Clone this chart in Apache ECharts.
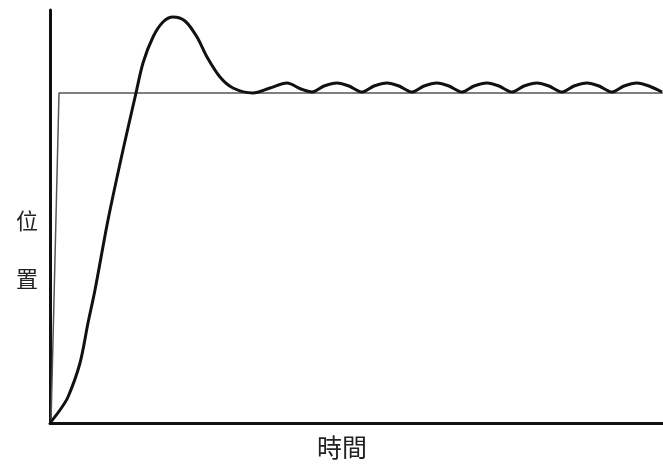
<!DOCTYPE html>
<html>
<head>
<meta charset="utf-8">
<script src="https://cdn.jsdelivr.net/npm/echarts@6/dist/echarts.min.js"></script>
<style>
html,body{margin:0;padding:0;background:#fff;}
#chart{width:663px;height:466px;}
</style>
</head>
<body>
<div id="chart"></div>
<script>
// Values (x = time, y = position, arbitrary units)
var stepInput = [[1, 0], [9, 330], [613, 330]];
var response = [
  [0, 0], [10, 13], [18, 26], [30, 60], [38, 100], [45, 133], [58, 203], [73, 273],
  [86, 330], [93, 360], [103, 386], [113, 401], [123, 406], [135, 402], [147, 386],
  [157, 366], [170, 346], [183, 335], [203, 330], [220, 335], [237, 340], [251, 334],
  [262, 331], [274, 337], [287, 340], [299, 337], [312, 331],
  [324, 337], [337, 340], [349, 337], [362, 331],
  [374, 337], [387, 340], [399, 337], [412, 331],
  [424, 337], [437, 340], [449, 337], [462, 331],
  [474, 337], [487, 340], [499, 337], [512, 331],
  [524, 337], [537, 340], [549, 337], [562, 331],
  [574, 337], [587, 340], [599, 337], [612, 331]
];
var yLabelChars = ['位', '置'];
var xLabel = '時間';

var chart = echarts.init(document.getElementById('chart'), null, {renderer: 'canvas'});
var axisCommon = {
  type: 'value',
  axisTick: {show: false},
  axisLabel: {show: false},
  splitLine: {show: false},
  axisLine: {show: true, onZero: false, lineStyle: {color: '#111', width: 3}}
};
chart.setOption({
  backgroundColor: '#fff',
  animation: false,
  grid: {left: 50, right: 0, top: 10, bottom: 43},
  xAxis: Object.assign({}, axisCommon, {min: 0, max: 613}),
  yAxis: Object.assign({}, axisCommon, {min: 0, max: 413}),
  graphic: [
    {type: 'text', left: 16, top: 210, style: {text: yLabelChars[0], font: '22px "Noto Sans CJK TC"', fill: '#222'}},
    {type: 'text', left: 16, top: 268, style: {text: yLabelChars[1], font: '22px "Noto Sans CJK TC"', fill: '#222'}},
    {type: 'text', left: 317, top: 435, style: {text: xLabel, font: '25px "Noto Sans CJK TC"', fill: '#222'}}
  ],
  series: [
    {
      type: 'line', data: stepInput, symbol: 'none',
      lineStyle: {color: '#555', width: 1.5}
    },
    {
      type: 'line', data: response, symbol: 'none', smooth: 0.3,
      lineStyle: {color: '#111', width: 3}
    }
  ]
});
</script>
</body>
</html>
